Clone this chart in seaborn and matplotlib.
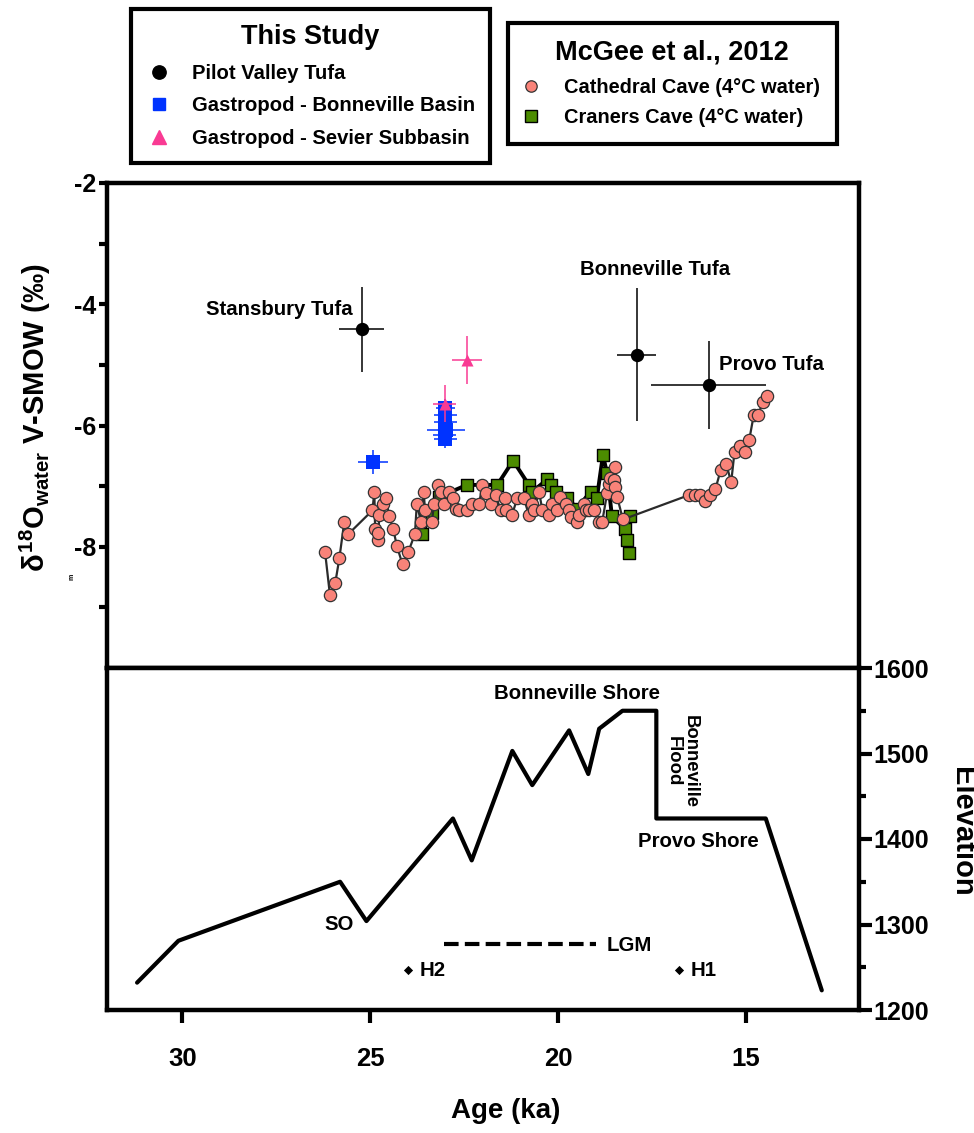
import matplotlib
matplotlib.use("Agg")
import matplotlib.pyplot as plt
from matplotlib.lines import Line2D
from matplotlib.ticker import FixedLocator, NullLocator
import seaborn as sns

# ---------------- data ----------------
# Cathedral Cave (McGee et al., 2012), age in ka, d18O of water (4 C)
cathedral_age = [26.20, 26.07, 25.93, 25.82, 25.69, 25.58, 24.94, 24.89, 24.87, 24.80,
                 24.78, 24.76, 24.67, 24.58, 24.50, 24.39, 24.29, 24.14, 23.99, 23.81,
                 23.76, 23.65, 23.58, 23.54, 23.36, 23.30, 23.21, 23.12, 23.03, 22.90,
                 22.81, 22.73, 22.64, 22.42, 22.28, 22.10, 22.02, 21.93, 21.80, 21.66,
                 21.53, 21.42, 21.38, 21.23, 21.09, 20.91, 20.78, 20.69, 20.64, 20.51,
                 20.42, 20.25, 20.16, 20.03, 19.94, 19.80, 19.72, 19.67, 19.50, 19.45,
                 19.32, 19.27, 19.18, 19.05, 18.92, 18.83, 18.70, 18.65, 18.61, 18.52,
                 18.50, 18.48, 18.43, 18.28, 16.53, 16.35, 16.22, 16.09, 15.95, 15.82,
                 15.68, 15.53, 15.40, 15.31, 15.16, 15.04, 14.92, 14.80, 14.68, 14.56,
                 14.45]
cathedral_d18o = [-8.09, -8.80, -8.60, -8.19, -7.59, -7.79, -7.40, -7.09, -7.70, -7.89,
                  -7.78, -7.48, -7.29, -7.19, -7.49, -7.70, -7.99, -8.29, -8.09, -7.79,
                  -7.29, -7.59, -7.09, -7.40, -7.59, -7.29, -6.98, -7.09, -7.29, -7.09,
                  -7.20, -7.37, -7.40, -7.40, -7.29, -7.29, -6.98, -7.12, -7.29, -7.15,
                  -7.40, -7.20, -7.40, -7.48, -7.20, -7.20, -7.48, -7.29, -7.40, -7.09,
                  -7.40, -7.48, -7.29, -7.40, -7.18, -7.29, -7.40, -7.51, -7.59, -7.48,
                  -7.29, -7.40, -7.40, -7.40, -7.59, -7.59, -7.12, -6.96, -6.87, -6.90,
                  -7.01, -6.68, -7.18, -7.55, -7.15, -7.15, -7.15, -7.24, -7.15, -7.05,
                  -6.74, -6.63, -6.94, -6.43, -6.33, -6.43, -6.24, -5.83, -5.83, -5.61,
                  -5.51]

# Craners Cave (McGee et al., 2012)
craners_age = [23.63, 23.35, 23.17, 22.43, 21.62, 21.20, 20.78, 20.69, 20.29, 20.20,
               20.07, 19.76, 19.50, 19.14, 18.97, 18.81, 18.70, 18.57, 18.23, 18.17,
               18.12, 18.08]
craners_d18o = [-7.79, -7.45, -7.18, -6.98, -6.98, -6.58, -6.98, -7.09, -6.89, -6.98,
                -7.09, -7.19, -7.37, -7.09, -7.19, -6.49, -6.79, -7.50, -7.70, -7.89,
                -8.10, -7.50]

# Pilot Valley tufa (this study)
pilot_names = ["Stansbury Tufa", "Bonneville Tufa", "Provo Tufa"]
pilot_age = [25.22, 17.91, 16.00]
pilot_d18o = [-4.41, -4.83, -5.33]
pilot_age_err = [0.60, 0.52, 1.52]
pilot_d18o_err = [0.70, 1.10, 0.72]
pilot_label_age = [27.42, 17.43, 14.34]
pilot_label_d18o = [-4.18, -3.52, -5.09]

# Gastropods, Bonneville Basin
bonneville_gastro_age = [24.92, 23.00, 23.00, 23.00, 22.98, 23.02, 23.00]
bonneville_gastro_d18o = [-6.60, -5.71, -5.82, -5.95, -6.08, -6.15, -6.22]
bonneville_gastro_age_err = [0.40, 0.25, 0.30, 0.30, 0.50, 0.30, 0.30]
bonneville_gastro_d18o_err = [0.20, 0.15, 0.15, 0.15, 0.15, 0.15, 0.15]

# Gastropods, Sevier Subbasin
sevier_gastro_age = [22.42, 23.02]
sevier_gastro_d18o = [-4.92, -5.64]
sevier_gastro_age_err = [0.40, 0.30]
sevier_gastro_d18o_err = [0.40, 0.30]

# Lake Bonneville hydrograph (elevation, m)
lake_age = [31.2, 30.1, 25.8, 25.1, 22.8, 22.3, 21.22, 20.69, 19.71, 19.2, 18.91,
            18.29, 17.39, 17.39, 14.48, 12.99]
lake_elev = [1232, 1281, 1350, 1304, 1424, 1375, 1503, 1463, 1527, 1476, 1529,
             1550, 1550, 1424, 1424, 1223]

lgm_age = [23.04, 19.0]
lgm_elev = [1277, 1277]

heinrich_names = ["H2", "H1"]
heinrich_age = [24.0, 16.8]
heinrich_elev = [1247, 1247]

x_ticks = [30, 25, 20, 15]
d18o_major = [-8, -6, -4, -2]
d18o_minor = [-9, -7, -5, -3]
elev_major = [1200, 1300, 1400, 1500, 1600]
elev_minor = [1250, 1350, 1450, 1550]

SALMON = "#F98379"
GREEN = "#4C8C00"
BLUE = "#0033FF"
PINK = "#F93A93"

# ---------------- style ----------------
sns.set_style("ticks")
plt.rcParams.update({
    "font.family": ["Liberation Sans", "DejaVu Sans"],
    "font.weight": "bold",
    "text.color": "black",
    "axes.labelcolor": "black",
    "axes.unicode_minus": False,
    "mathtext.fontset": "custom",
    "mathtext.rm": "Liberation Sans:bold",
    "mathtext.it": "Liberation Sans:bold",
    "mathtext.bf": "Liberation Sans:bold",
    "mathtext.sf": "Liberation Sans:bold",
    "axes.linewidth": 3.2,
    "axes.edgecolor": "black",
    "xtick.color": "black",
    "ytick.color": "black",
    "xtick.labelcolor": "black",
    "ytick.labelcolor": "black",
    "legend.labelcolor": "black",
})

W, H = 974, 1133
fig = plt.figure(figsize=(W / 100, H / 100), dpi=100)
ax1 = fig.add_axes([107 / W, 1 - 668 / H, 752 / W, 485 / H])
ax2 = fig.add_axes([107 / W, 1 - 1010 / H, 752 / W, 342 / H], sharex=ax1)
for ax in (ax1, ax2):
    ax.set_facecolor("white")
    for sp in ax.spines.values():
        sp.set_linewidth(3.2)
        sp.set_color("black")

# ---------------- upper panel: d18O ----------------
sns.lineplot(x=craners_age, y=craners_d18o, ax=ax1, color="black", lw=2.8,
             sort=False, estimator=None, zorder=2)
sns.scatterplot(x=craners_age, y=craners_d18o, ax=ax1, marker="s", s=69,
                color=GREEN, edgecolor="black", linewidth=1.0, zorder=3)
sns.lineplot(x=cathedral_age, y=cathedral_d18o, ax=ax1, color="#2b2b2b", lw=1.6,
             sort=False, estimator=None, zorder=3.5)
sns.scatterplot(x=cathedral_age, y=cathedral_d18o, ax=ax1, marker="o", s=78,
                color=SALMON, edgecolor="#333333", linewidth=0.9, zorder=4)

ax1.errorbar(bonneville_gastro_age, bonneville_gastro_d18o,
             xerr=bonneville_gastro_age_err, yerr=bonneville_gastro_d18o_err,
             fmt="none", ecolor=BLUE, elinewidth=1.1, capsize=0, zorder=5)
sns.scatterplot(x=bonneville_gastro_age, y=bonneville_gastro_d18o, ax=ax1, marker="s",
                s=88, color=BLUE, linewidth=0, zorder=6)

ax1.errorbar(sevier_gastro_age, sevier_gastro_d18o,
             xerr=sevier_gastro_age_err, yerr=sevier_gastro_d18o_err,
             fmt="none", ecolor=PINK, elinewidth=1.1, capsize=0, zorder=7)
sns.scatterplot(x=sevier_gastro_age, y=sevier_gastro_d18o, ax=ax1, marker="^",
                s=75, color=PINK, linewidth=0, zorder=8)

ax1.errorbar(pilot_age, pilot_d18o, xerr=pilot_age_err, yerr=pilot_d18o_err,
             fmt="none", ecolor="black", elinewidth=1.1, capsize=0, zorder=7)
sns.scatterplot(x=pilot_age, y=pilot_d18o, ax=ax1, marker="o", s=92,
                color="black", linewidth=0, zorder=8)

for name, xa, ya in zip(pilot_names, pilot_label_age, pilot_label_d18o):
    ax1.text(xa, ya, name, ha="center", va="baseline", fontsize=14.7,
             fontweight="bold", color="black", zorder=9)

ax1.set_xlim(32, 12)
ax1.set_ylim(-10, -2)
ax1.yaxis.set_major_locator(FixedLocator(d18o_major))
ax1.yaxis.set_minor_locator(FixedLocator(d18o_minor))
ax1.tick_params(axis="y", which="both", direction="out", length=6, width=3,
                pad=2, labelsize=18, left=True, right=False)
ax1.tick_params(axis="x", which="both", bottom=False, top=False,
                labelbottom=False)
ax1.set_xlabel("")
ax1.set_ylabel("")

# ---------------- lower panel: lake level ----------------
sns.lineplot(x=lake_age, y=lake_elev, ax=ax2, color="black", lw=3,
             sort=False, estimator=None)
sns.lineplot(x=lgm_age, y=lgm_elev, ax=ax2, color="black", lw=3,
             sort=False, estimator=None, linestyle=(0, (3.5, 1.5)))
sns.scatterplot(x=heinrich_age, y=heinrich_elev, ax=ax2, marker="D", s=22,
                color="black", linewidth=0)

txt = dict(fontsize=14.7, fontweight="bold", color="black")
ax2.text(25.82, 1293.6, "SO", ha="center", va="baseline", **txt)
ax2.text(19.49, 1564, "Bonneville Shore", ha="center", va="baseline", **txt)
ax2.text(16.26, 1391, "Provo Shore", ha="center", va="baseline", **txt)
ax2.text(18.70, 1269.5, "LGM", ha="left", va="baseline", **txt)
for name, xa in zip(heinrich_names, heinrich_age):
    ax2.text(xa - 0.32, 1239.5, name, ha="left", va="baseline", **txt)
ax2.text(16.72, 1490.7, "Bonneville\nFlood", ha="center", va="center",
         rotation=270, fontsize=13.3, fontweight="bold", color="black",
         linespacing=1.0, multialignment="center")

ax2.set_ylim(1200, 1600)
ax2.yaxis.tick_right()
ax2.yaxis.set_major_locator(FixedLocator(elev_major))
ax2.yaxis.set_minor_locator(FixedLocator(elev_minor))
ax2.tick_params(axis="y", which="major", direction="out", right=True, left=False,
                length=9, width=3, pad=1, labelsize=18)
ax2.tick_params(axis="y", which="minor", direction="out", right=True, left=False,
                length=5, width=3)
ax2.set_xticks(x_ticks)
ax2.xaxis.set_minor_locator(NullLocator())
ax2.tick_params(axis="x", which="major", direction="out", bottom=True, top=False,
                length=9, width=3, pad=18, labelsize=18.5)
ax2.set_xlabel("")
ax2.set_ylabel("")

# ---------------- axis titles ----------------
fig.text(35 / W, 1 - 418 / H, r"$\delta^{18}$O$_{water}$ V-SMOW (‰)",
         rotation=90, ha="center", va="center", fontsize=21, fontweight="bold",
         color="black")
fig.text(72 / W, 1 - 577 / H, "m", rotation=90, ha="center", va="center",
         fontsize=5, fontweight="bold", color="black")
fig.text(962 / W, 1 - 832 / H, "Elevation", rotation=270, ha="center",
         va="center", fontsize=21, fontweight="bold", color="black")
fig.text(506 / W, 1 - 1111 / H, "Age (ka)", ha="center", va="center",
         fontsize=20, fontweight="bold", color="black")

# ---------------- legends ----------------
study_handles = [
    Line2D([], [], ls="none", marker="o", ms=9.6, mfc="black", mec="black"),
    Line2D([], [], ls="none", marker="s", ms=9.0, mfc=BLUE, mec=BLUE),
    Line2D([], [], ls="none", marker="^", ms=9.5, mfc=PINK, mec=PINK),
]
study_labels = ["Pilot Valley Tufa", "Gastropod - Bonneville Basin",
                "Gastropod - Sevier Subbasin"]
leg1 = fig.legend(study_handles, study_labels, title="This Study",
                  loc="upper left", bbox_to_anchor=(131 / W, 1 - 9 / H),
                  borderaxespad=0, frameon=True, fancybox=False,
                  edgecolor="black", framealpha=1, fontsize=14.6,
                  title_fontproperties={"weight": "bold", "size": 19.5},
                  handlelength=1.27, handletextpad=0.98, borderpad=0.75,
                  labelspacing=0.67)
leg1.get_frame().set_linewidth(3)

cave_handles = [
    Line2D([], [], ls="none", marker="o", ms=8.2, mfc=SALMON, mec="#333333", mew=0.9),
    Line2D([], [], ls="none", marker="s", ms=8.0, mfc=GREEN, mec="black", mew=1.0),
]
cave_labels = ["Cathedral Cave (4°C water)", "Craners Cave (4°C water)"]
leg2 = fig.legend(cave_handles, cave_labels, title="McGee et al., 2012",
                  loc="upper left", bbox_to_anchor=(508 / W, 1 - 23 / H),
                  borderaxespad=0, frameon=True, fancybox=False,
                  edgecolor="black", framealpha=1, fontsize=14.4,
                  title_fontproperties={"weight": "bold", "size": 19.5},
                  handlelength=0.63, handletextpad=1.3, borderpad=0.85,
                  labelspacing=0.58)
leg2.get_frame().set_linewidth(3)

fig.savefig("out.png", dpi=100, facecolor="white")
